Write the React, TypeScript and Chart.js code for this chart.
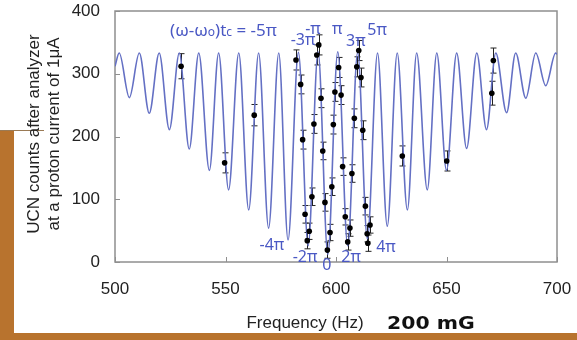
import React, { useEffect, useRef } from 'react';
import { Chart, registerables } from 'chart.js';

Chart.register(...registerables);

// ---- axes ----
const xTicks = [500, 550, 600, 650, 700];
const yTicks = [0, 100, 200, 300, 400];

// ---- measured points (Hz, counts, error) ----
const dataFreq = [529.9, 549.6, 563.0, 581.9, 584.0, 584.9, 586.0, 587.0, 587.9, 589.1, 590.0, 591.3, 592.2, 593.2, 594.0, 595.0, 596.1, 597.3, 598.1, 598.8, 599.5, 601.2, 602.3, 603.0, 604.2, 605.3, 606.3, 607.2, 608.3, 609.4, 610.3, 611.3, 612.1, 613.3, 614.1, 614.4, 615.4, 630.0, 650.1, 670.5, 671.2];
const dataCounts = [312, 158, 234, 322, 283, 195, 76, 34, 49, 104, 220, 330, 346, 261, 177, 95, 19, 47, 120, 219, 271, 310, 266, 152, 72, 32, 54, 141, 229, 311, 337, 294, 210, 89, 45, 30, 59, 169, 161, 269, 321];
const dataErr = [20, 16, 17, 16, 15, 15, 14, 13, 13, 14, 15, 16, 16, 15, 14, 14, 13, 13, 14, 15, 15, 16, 15, 14, 13, 13, 13, 14, 15, 16, 16, 15, 15, 14, 13, 13, 13, 16, 16, 19, 20];

// ---- fitted curve: read extrema (Hz, counts) ----
const fitFreq = [500, 501.9, 506.5, 511.0, 515.5, 520.0, 524.6, 529.1, 533.6, 537.9, 542.7, 546.9, 551.4, 556.0, 560.5, 565.0, 569.5, 574.1, 578.3, 583.0, 587.4, 591.9, 596.3, 600.8, 605.3, 609.8, 614.2, 618.8, 623.2, 627.7, 632.3, 636.5, 641.3, 645.6, 650.0, 654.6, 659.1, 663.7, 668.1, 672.3, 677.2, 681.3, 685.9, 690.4, 694.9, 699.4, 700];
const fitCounts = [312, 333, 262, 333, 237, 333, 211, 333, 180, 333, 146, 333, 115, 333, 83, 333, 54, 333, 35, 334, 26, 335, 12, 335, 26, 334, 37, 333, 57, 333, 83, 333, 115, 333, 146, 333, 181, 333, 211, 333, 238, 333, 261, 333, 281, 333, 331];

// ---- handwritten phase labels ----
const phaseText = ['-3π', '-π', 'π', '3π', '5π', '-4π', '-2π', '0', '2π', '4π'];
const phaseFreq = [585.1, 589.6, 600.5, 609.0, 618.6, 571.0, 586.0, 595.9, 606.8, 622.6];
const phaseCounts = [353, 371, 371, 352, 369, 27, 8, -5, 8, 24];

const HAND = '#4a58c4';
const CURVE = '#6470c4';

const overlayPlugin = {
  id: 'overlay',
  beforeDatasetsDraw(chart: any) {
    const { ctx, chartArea, scales } = chart;
    const { left, right, top, bottom } = chartArea;
    const x = scales.x, y = scales.y;
    ctx.save();
    ctx.strokeStyle = '#8f8f8f';
    ctx.lineWidth = 1.5;
    ctx.strokeRect(left, top, right - left, bottom - top);
    ctx.lineWidth = 1;
    ctx.beginPath();
    yTicks.forEach((v) => {
      const py = Math.round(y.getPixelForValue(v)) + 0.5;
      ctx.moveTo(left, py);
      ctx.lineTo(left + 5, py);
    });
    xTicks.forEach((v) => {
      const px = Math.round(x.getPixelForValue(v)) + 0.5;
      ctx.moveTo(px, bottom);
      ctx.lineTo(px, bottom - 5);
    });
    ctx.stroke();
    // error bars
    ctx.strokeStyle = '#222';
    ctx.lineWidth = 1;
    ctx.beginPath();
    dataFreq.forEach((f, i) => {
      const px = Math.round(x.getPixelForValue(f)) + 0.5;
      const y1 = y.getPixelForValue(dataCounts[i] - dataErr[i]);
      const y2 = y.getPixelForValue(dataCounts[i] + dataErr[i]);
      ctx.moveTo(px, y1);
      ctx.lineTo(px, y2);
      ctx.moveTo(px - 3, y1);
      ctx.lineTo(px + 3, y1);
      ctx.moveTo(px - 3, y2);
      ctx.lineTo(px + 3, y2);
    });
    ctx.stroke();
    ctx.restore();
  },
  afterDraw(chart: any) {
    const { ctx, scales } = chart;
    const x = scales.x, y = scales.y;
    ctx.save();
    // formula
    ctx.fillStyle = HAND;
    ctx.textBaseline = 'alphabetic';
    const segs: [string, number][] = [['(ω-ω', 17], ['o', 12], [')t', 17], ['c', 12], [' = -5π', 17]];
    let cx = x.getPixelForValue(524.9);
    const by = y.getPixelForValue(369.7) + 6;
    segs.forEach(([t, s]) => {
      ctx.font = `${s}px "Noto Sans"`;
      ctx.fillText(t, cx, by);
      cx += ctx.measureText(t).width;
    });
    ctx.font = '16px "Noto Sans"';
    ctx.textAlign = 'center';
    ctx.textBaseline = 'middle';
    phaseText.forEach((t, i) => {
      ctx.fillText(t, x.getPixelForValue(phaseFreq[i]), y.getPixelForValue(phaseCounts[i]));
    });
    // axis titles
    ctx.fillStyle = '#222';
    ctx.font = '17px "Liberation Sans", Arial, sans-serif';
    ctx.textAlign = 'center';
    ctx.textBaseline = 'alphabetic';
    ctx.fillText('Frequency (Hz)', 305, 328);
    ctx.save();
    ctx.translate(0, 134);
    ctx.rotate(-Math.PI / 2);
    ctx.textBaseline = 'middle';
    ctx.fillText('UCN counts after analyzer', 0, 34);
    ctx.fillText('at a proton current of 1μA', 0, 54);
    ctx.restore();
    // 200 mG
    ctx.save();
    ctx.fillStyle = '#111';
    ctx.font = 'bold 17px "DejaVu Sans"';
    ctx.textAlign = 'left';
    ctx.translate(387, 329);
    ctx.scale(1.2, 1);
    ctx.fillText('200 mG', 0, 0);
    ctx.restore();
    ctx.restore();
  },
};

export default function App() {
  const ref = useRef<HTMLCanvasElement>(null);
  useEffect(() => {
    if (!ref.current) return;
    const chart = new Chart(ref.current, {
      type: 'line',
      data: {
        datasets: [
          {
            label: 'data',
            data: dataFreq.map((f, i) => ({ x: f, y: dataCounts[i] })),
            showLine: false,
            pointRadius: 2.8,
            pointBackgroundColor: '#000',
            pointBorderWidth: 0,
            borderColor: '#000',
          } as any,
          {
            label: 'fit',
            data: fitFreq.map((f, i) => ({ x: f, y: fitCounts[i] })),
            borderColor: CURVE,
            borderWidth: 1.6,
            pointRadius: 0,
            cubicInterpolationMode: 'monotone',
            fill: false,
          } as any,
        ],
      },
      options: {
        responsive: false,
        animation: false,
        devicePixelRatio: 1,
        events: [],
        layout: { padding: { left: 0, top: 11, right: 20, bottom: 0 } },
        plugins: { legend: { display: false }, tooltip: { enabled: false } },
        scales: {
          x: {
            type: 'linear',
            min: 500,
            max: 700,
            afterFit: (s: any) => { s.height = 78; s.paddingLeft = 0; s.paddingRight = 0; },
            afterBuildTicks: (s: any) => { s.ticks = xTicks.map((v) => ({ value: v })); },
            grid: { display: false, drawTicks: false },
            border: { display: false },
            ticks: {
              padding: 17,
              color: '#222',
              font: { family: '"Liberation Sans", Arial, sans-serif', size: 17 },
              maxRotation: 0,
            },
          },
          y: {
            min: 0,
            max: 400,
            afterFit: (s: any) => { s.width = 115; s.paddingTop = 0; s.paddingBottom = 0; },
            afterBuildTicks: (s: any) => { s.ticks = yTicks.map((v) => ({ value: v })); },
            grid: { display: false, drawTicks: false },
            border: { display: false },
            ticks: {
              padding: 15,
              color: '#222',
              font: { family: '"Liberation Sans", Arial, sans-serif', size: 17 },
            },
          },
        },
      } as any,
      plugins: [overlayPlugin],
    });
    return () => chart.destroy();
  }, []);

  return (
    <div style={{ position: 'fixed', left: 0, top: 0, width: 577, height: 340, background: '#fff', overflow: 'hidden' }}>
      <div style={{ position: 'absolute', left: 0, top: 131, width: 14, height: 209, background: '#b8732e' }} />
      <div style={{ position: 'absolute', left: 0, top: 130, width: 44, height: 1, background: '#9a7a55' }} />
      <div style={{ position: 'absolute', left: 0, top: 333, width: 577, height: 7, background: '#b8732e' }} />
      <canvas ref={ref} width={577} height={340} style={{ position: 'absolute', left: 0, top: 0, display: 'block' }} />
    </div>
  );
}
